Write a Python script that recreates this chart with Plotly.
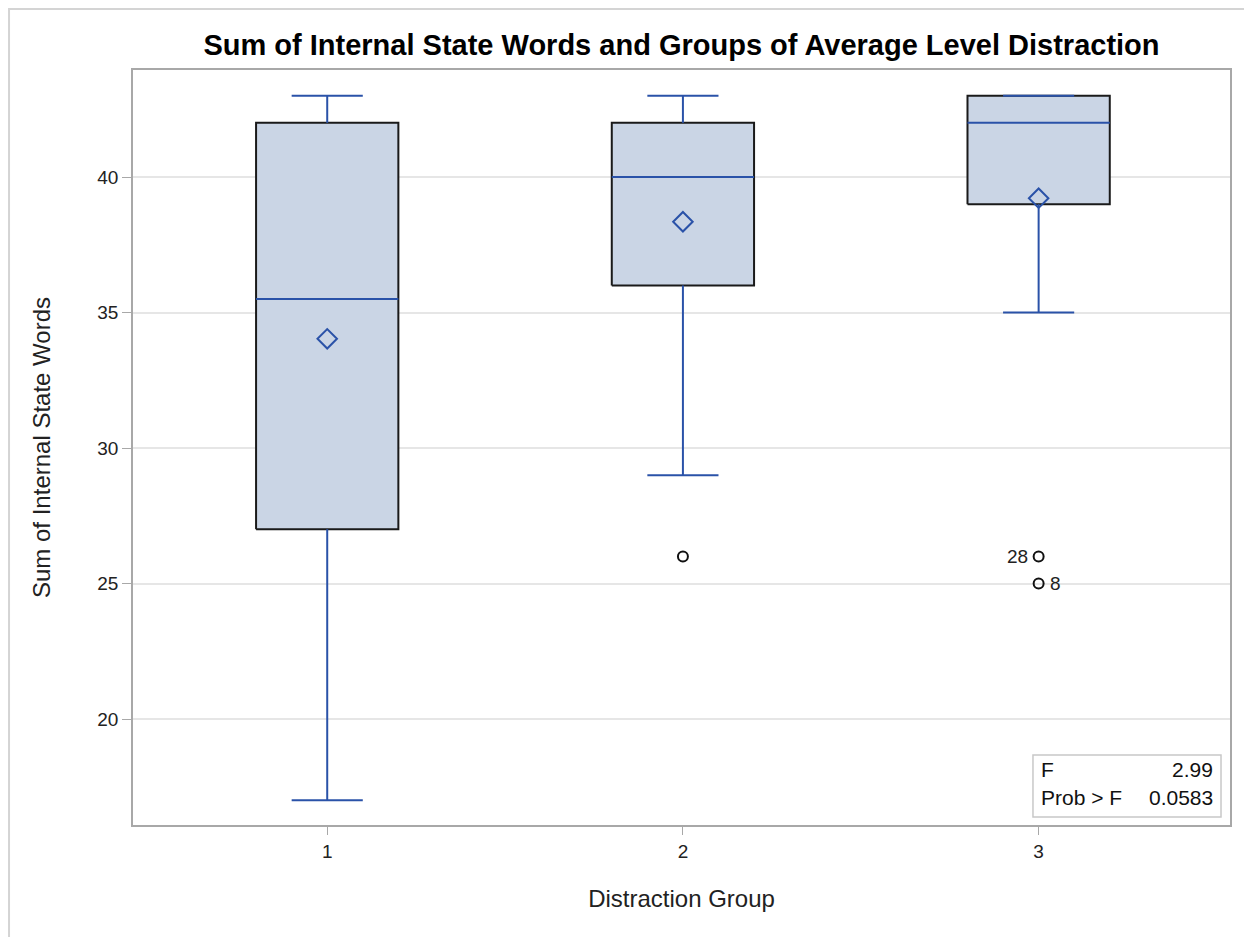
import plotly.graph_objects as go

# ---- data ----
groups = [1, 2, 3]
upper_whisker = [43, 43, 43]
q3 = [42, 42, 43]
median = [35.5, 40, 42]
mean = [34.03, 38.35, 39.22]
q1 = [27, 36, 39]
lower_whisker = [17, 29, 35]

outlier_group = [2, 3, 3]
outlier_value = [26, 26, 25]
outlier_label = ["", "28", "8"]
outlier_label_side = ["right", "left", "right"]

stat_names = ["F", "Prob > F"]
stat_values = ["2.99", "0.0583"]

y_ticks = [20, 25, 30, 35, 40]

# ---- styles ----
FILL = "#CAD5E5"
BLUE = "#2A52A8"
FONT = "Liberation Sans, Arial, sans-serif"
BOX_HALF = 0.2
CAP_HALF = 0.1

fig = go.Figure()

for g, lo, a, m, b, hi in zip(groups, lower_whisker, q1, median, q3, upper_whisker):
    # box body
    fig.add_trace(go.Scatter(
        x=[g - BOX_HALF, g + BOX_HALF, g + BOX_HALF, g - BOX_HALF, g - BOX_HALF],
        y=[a, a, b, b, a], mode="lines", fill="toself", fillcolor=FILL,
        line=dict(color="#1a1a1a", width=2), hoverinfo="skip", showlegend=False))
    # whiskers and caps
    fig.add_trace(go.Scatter(
        x=[g, g, None, g, g, None, g - CAP_HALF, g + CAP_HALF, None, g - CAP_HALF, g + CAP_HALF],
        y=[b, hi, None, a, lo, None, hi, hi, None, lo, lo],
        mode="lines", line=dict(color=BLUE, width=2), hoverinfo="skip", showlegend=False))
    # median
    fig.add_trace(go.Scatter(
        x=[g - BOX_HALF, g + BOX_HALF], y=[m, m], mode="lines",
        line=dict(color=BLUE, width=2), hoverinfo="skip", showlegend=False))

# means
fig.add_trace(go.Scatter(
    x=groups, y=mean, mode="markers",
    marker=dict(symbol="diamond-open", size=15, color=BLUE, line=dict(width=2, color=BLUE)),
    showlegend=False))

# outliers
fig.add_trace(go.Scatter(
    x=outlier_group, y=outlier_value, mode="markers",
    marker=dict(symbol="circle-open", size=10, color="#111111", line=dict(width=2, color="#111111")),
    showlegend=False))
for g, v, lab, side in zip(outlier_group, outlier_value, outlier_label, outlier_label_side):
    if lab:
        fig.add_annotation(x=g, y=v, text=lab, showarrow=False,
                           xanchor="right" if side == "left" else "left",
                           xshift=-9 if side == "left" else 9, yanchor="middle",
                           font=dict(family=FONT, size=19, color="#222222"))

# stats inset
fig.add_shape(type="rect", xref="paper", yref="paper", x0=0.8204, x1=0.9918, y0=0.0106, y1=0.0927,
              line=dict(color="#C8C8C8", width=1.5), fillcolor="white", layer="above")
for i, (nm, val) in enumerate(zip(stat_names, stat_values)):
    yy = 0.073 - i * 0.036
    fig.add_annotation(xref="paper", yref="paper", x=0.8255, y=yy, text=nm, showarrow=False,
                       xanchor="left", yanchor="middle", font=dict(family=FONT, size=21, color="#111111"))
    fig.add_annotation(xref="paper", yref="paper", x=0.9865, y=yy, text=val, showarrow=False,
                       xanchor="right", yanchor="middle", font=dict(family=FONT, size=21, color="#111111"))

# outer frame of the image
fig.add_shape(type="rect", xref="paper", yref="paper", x0=-0.1130, x1=1.08, y0=-0.3, y1=1.0808,
              line=dict(color="#D4D4D4", width=2), layer="below")

fig.update_layout(
    width=1244, height=929,
    margin=dict(l=125, r=22, t=62, b=112),
    paper_bgcolor="white", plot_bgcolor="white",
    font=dict(family=FONT, color="#222222"),
    title=dict(text="<b>Sum of Internal State Words and Groups of Average Level Distraction</b>",
               x=0.5, xref="paper", y=1 - 37 / 929, yref="container", xanchor="center", yanchor="middle",
               font=dict(family=FONT, size=29, color="#000000")),
    xaxis=dict(range=[0.454, 3.538], tickvals=groups, ticktext=[str(g) for g in groups],
               showgrid=False, zeroline=False, showline=True, mirror=True, linecolor="#A8A8A8", linewidth=1.5,
               ticks="outside", ticklen=8, tickcolor="#A8A8A8", tickfont=dict(size=19, color="#222222"),
               title=dict(text="Distraction Group", font=dict(size=24, color="#222222"), standoff=30)),
    yaxis=dict(range=[16.09, 43.95], tickvals=y_ticks,
               showgrid=True, gridcolor="#E6E6E6", gridwidth=1.5, zeroline=False,
               showline=True, mirror=True, linecolor="#A8A8A8", linewidth=1.5,
               ticks="outside", ticklen=9, tickcolor="#A8A8A8", tickfont=dict(size=19, color="#222222"),
               title=dict(text="Sum of Internal State Words", font=dict(size=24, color="#222222"), standoff=40)),
)

fig.write_html("out.html")
